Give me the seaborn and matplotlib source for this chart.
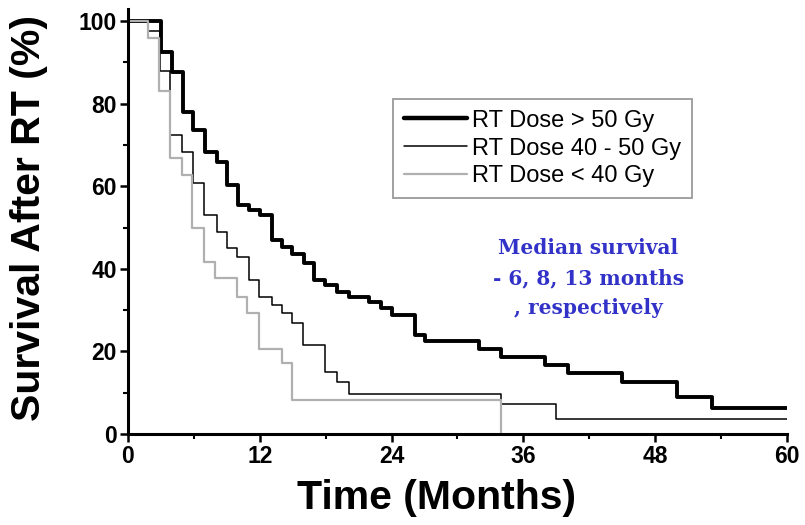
import numpy as np
import pandas as pd
import matplotlib
matplotlib.use("Agg")
import matplotlib.pyplot as plt
import seaborn as sns

# ---- data ----
high_t = [0, 3.05, 4.05, 5.0, 5.95, 7.0, 8.1, 9.0, 10.0, 11.0, 12.0, 13.1, 14.0, 14.9,
          16.0, 16.9, 17.9, 19.0, 20.1, 21.9, 23.0, 24.0, 26.1, 27.0, 32.0, 34.0, 38.0,
          40.1, 45.0, 50.0, 53.2, 60.0]
high_s = [100, 92.6, 87.7, 78.0, 73.6, 68.4, 65.9, 60.3, 55.4, 54.2, 53.0, 47.0, 45.3, 43.7,
          41.3, 37.3, 36.1, 34.5, 33.2, 32.0, 30.5, 28.8, 24.0, 22.6, 20.7, 18.7, 16.7,
          14.7, 12.7, 9.0, 6.2, 6.2]

mid_t = [0, 1.8, 2.9, 3.8, 4.9, 5.9, 6.9, 8.1, 9.0, 9.9, 11.0, 11.9, 13.1, 14.0, 14.9,
         15.9, 17.9, 19.0, 20.1, 34.0, 39.0, 60.0]
mid_s = [100, 97.5, 88.0, 72.4, 68.4, 60.7, 53.0, 49.0, 45.0, 42.9, 37.3, 33.2, 31.2, 29.2,
         26.8, 21.5, 15.1, 12.7, 9.8, 7.2, 3.7, 3.7]

low_t = [0, 1.8, 2.8, 3.8, 4.9, 5.8, 6.9, 7.9, 9.9, 10.8, 11.9, 14.0, 14.9, 34.0]
low_s = [100, 96.0, 83.0, 66.8, 62.7, 49.8, 41.7, 37.7, 33.2, 29.2, 20.7, 17.1, 8.2, 0.0]

labels = ["RT Dose > 50 Gy", "RT Dose 40 - 50 Gy", "RT Dose < 40 Gy"]
x_ticks = [0, 12, 24, 36, 48, 60]
y_ticks = [0, 20, 40, 60, 80, 100]
note = "Median survival\n- 6, 8, 13 months\n, respectively"

# ---- style ----
sns.set_style("ticks")
plt.rcParams["font.family"] = ["Liberation Sans", "DejaVu Sans"]
plt.rcParams.update({
    "axes.linewidth": 2.2,
    "axes.edgecolor": "black",
    "axes.labelcolor": "black",
    "text.color": "black",
    "xtick.color": "black",
    "ytick.color": "black",
})

fig = plt.figure(figsize=(8.05, 5.25), dpi=100)
ax = fig.add_axes([0.159, 0.1733, 0.8186, 0.8103])

series = [(high_t, high_s, "black", 2.8), (mid_t, mid_s, "black", 1.1), (low_t, low_s, "#b0b0b0", 1.6)]
for (t, s, c, lw), lab in zip(series, labels):
    df = pd.DataFrame({"t": t, "s": s})
    sns.lineplot(data=df, x="t", y="s", drawstyle="steps-post", color=c, lw=lw,
                 estimator=None, sort=False, label=lab, ax=ax)

ax.set_xlim(0, 60)
ax.set_ylim(0, 103)
ax.set_xticks(x_ticks)
ax.set_yticks(y_ticks)
ax.set_xticks([6, 18, 30, 42, 54], minor=True)
ax.set_yticks([10, 30, 50, 70, 90], minor=True)
ax.tick_params(axis="both", which="major", direction="out", length=6, width=1.8,
               labelsize=16.5, pad=2)
ax.tick_params(axis="both", which="minor", direction="out", length=3.5, width=1.5)
for lbl in ax.get_xticklabels() + ax.get_yticklabels():
    lbl.set_fontweight("bold")
sns.despine(ax=ax)

ax.set_xlabel("Time (Months)", fontsize=29.5, fontweight="bold")
ax.set_ylabel("Survival After RT (%)", fontsize=29.5, fontweight="bold")
ax.xaxis.set_label_coords((437 - 128) / 659, -0.105)
ax.yaxis.set_label_coords(-0.122, (434 - 218) / (434 - 8.6))

leg = ax.legend(loc="upper left", bbox_to_anchor=(393 / 805, 1 - 99 / 525),
                bbox_transform=fig.transFigure, borderaxespad=0, frameon=True,
                fancybox=False, edgecolor="#808080", fontsize=17, handlelength=2.7,
                handletextpad=0.2, labelspacing=0.25, borderpad=0.45)
leg.get_frame().set_linewidth(1.3)
leg.get_lines()[0].set_linewidth(3.2)

ax.text(41.9, 37.8, note, ha="center", va="center", multialignment="center",
        fontsize=14.5, fontweight="bold", color="#3232c8", family="DejaVu Serif",
        linespacing=1.62)

fig.savefig("out.png", dpi=100)
